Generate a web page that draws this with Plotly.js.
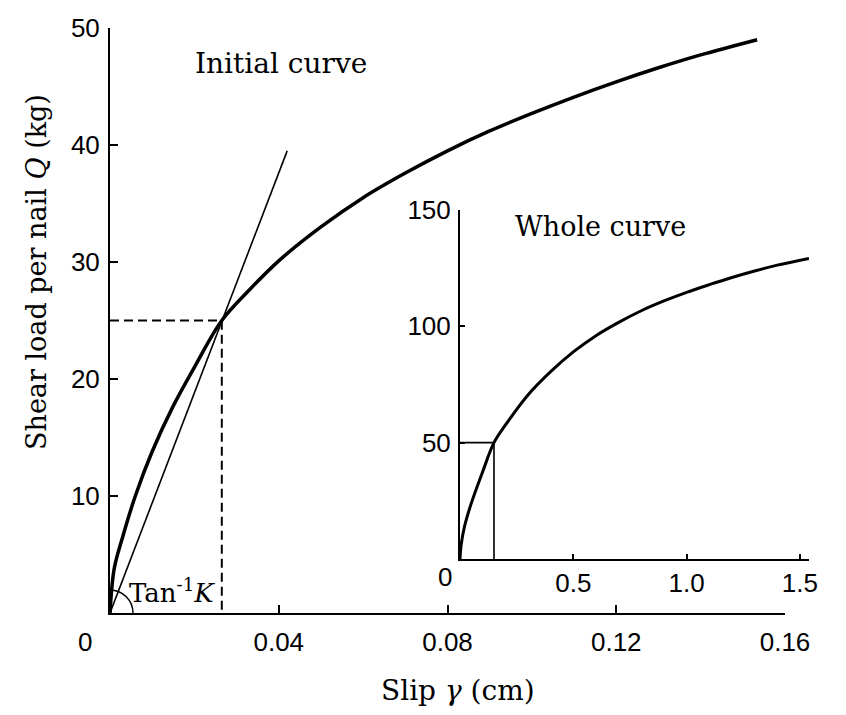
<!DOCTYPE html>
<html>
<head>
<meta charset="utf-8">
<script src="https://cdn.plot.ly/plotly-3.0.1.min.js"></script>
<style>html,body{margin:0;padding:0;background:#fff;}#chart{width:846px;height:715px;}</style>
</head>
<body>
<div id="chart"></div>
<script>
// Initial curve (main plot): slip (cm) vs shear load per nail (kg)
const initialSlip = [0, 0.001, 0.003, 0.006, 0.01, 0.015, 0.02, 0.0265, 0.033, 0.04, 0.05, 0.06, 0.07, 0.08, 0.09, 0.10, 0.11, 0.12, 0.13, 0.14, 0.1534];
const initialLoad = [0, 3.8, 6.5, 10.0, 13.8, 17.7, 21.0, 25.0, 27.6, 30.1, 33.0, 35.5, 37.6, 39.5, 41.2, 42.7, 44.1, 45.4, 46.6, 47.7, 49.0];
// Secant line (slip modulus K) through the reference point
const secantSlip = [0, 0.0265, 0.042];
const secantLoad = [0, 25, 39.5];
// Reference point (dashed guides)
const refSlip = [0, 0.0265, 0.0265];
const refLoad = [25, 25, 0];
// Whole curve (inset)
const wholeSlip = [0, 0.005, 0.02, 0.05, 0.1, 0.15, 0.2, 0.3, 0.4, 0.5, 0.6, 0.7, 0.8, 0.9, 1.0, 1.1, 1.2, 1.3, 1.4, 1.54];
const wholeLoad = [0, 6, 14, 24, 37.5, 50, 57.5, 70.5, 80.5, 89, 96, 101.7, 106.7, 110.9, 114.6, 117.9, 121.0, 123.8, 126.3, 129.2];
// Initial-curve window shown in the inset
const boxSlip = [0, 0.15, 0.15];
const boxLoad = [50, 50, 0];
// Tick labels
const mainXTicks = [0.04, 0.08, 0.12, 0.16];
const mainXText = ['0.04', '0.08', '0.12', '0.16'];
const mainYTicks = [10, 20, 30, 40, 50];
const insetXTicks = [0.5, 1.0, 1.5];
const insetXText = ['0.5', '1.0', '1.5'];
const insetYTicks = [50, 100, 150];

const serif = 'DejaVu Serif, Liberation Serif, serif';
const sans = 'Liberation Sans, Arial, sans-serif';

const traces = [
  {x: initialSlip, y: initialLoad, mode: 'lines', line: {color: '#000', width: 3.5, shape: 'spline', smoothing: 1}, xaxis: 'x', yaxis: 'y', hoverinfo: 'skip'},
  {x: secantSlip, y: secantLoad, mode: 'lines', line: {color: '#000', width: 1.6}, xaxis: 'x', yaxis: 'y', hoverinfo: 'skip'},
  {x: refSlip, y: refLoad, mode: 'lines', line: {color: '#000', width: 2, dash: '9px,5px'}, xaxis: 'x', yaxis: 'y', hoverinfo: 'skip'},
  {x: wholeSlip, y: wholeLoad, mode: 'lines', line: {color: '#000', width: 3, shape: 'spline', smoothing: 1}, xaxis: 'x2', yaxis: 'y2', hoverinfo: 'skip'},
  {x: boxSlip, y: boxLoad, mode: 'lines', line: {color: '#000', width: 1.6}, xaxis: 'x2', yaxis: 'y2', hoverinfo: 'skip'}
];

const axisCommon = {
  showline: true, linecolor: '#000', linewidth: 2, mirror: false,
  showgrid: false, zeroline: false,
  ticks: 'inside', ticklen: 8, tickwidth: 2, tickcolor: '#000',
  fixedrange: true
};

const tickFont = {family: sans, size: 26, color: '#000'};

const layout = {
  width: 846, height: 715,
  margin: {l: 0, r: 0, t: 0, b: 0},
  paper_bgcolor: '#fff', plot_bgcolor: 'rgba(0,0,0,0)',
  showlegend: false,
  font: {family: sans, color: '#000', size: 24},
  xaxis: Object.assign({}, axisCommon, {
    domain: [110/846, 785/846], range: [0, 0.16],
    tickvals: mainXTicks, ticktext: mainXText,
    tickfont: tickFont, ticklabelstandoff: 5,
    anchor: 'y'
  }),
  yaxis: Object.assign({}, axisCommon, {
    domain: [(715-613)/715, (715-28)/715], range: [0, 50],
    tickvals: mainYTicks,
    tickfont: tickFont, ticklabelstandoff: 3,
    anchor: 'x'
  }),
  xaxis2: Object.assign({}, axisCommon, {
    domain: [460/846, 809/846], range: [0, 1.54],
    tickvals: insetXTicks, ticktext: insetXText, ticklen: 5,
    tickfont: tickFont, ticklabelstandoff: 0,
    anchor: 'y2'
  }),
  yaxis2: Object.assign({}, axisCommon, {
    domain: [(715-559)/715, (715-210)/715], range: [0, 150],
    tickvals: insetYTicks, ticklen: 5,
    tickfont: tickFont, ticklabelstandoff: 2,
    anchor: 'x2'
  }),
  shapes: [
    {type: 'circle', xref: 'x', yref: 'y', xsizemode: 'pixel', ysizemode: 'pixel',
     xanchor: 0, yanchor: 0, x0: -23, x1: 23, y0: -23, y1: 23,
     line: {color: '#000', width: 1.5}, layer: 'above'}
  ],
  annotations: [
    {text: 'Shear load per nail <i>Q</i> (kg)', xref: 'paper', yref: 'paper', x: 36/846, y: (715-272)/715,
     textangle: -90, showarrow: false, font: {family: serif, size: 27, color: '#000'}, xanchor: 'center', yanchor: 'middle'},
    {text: 'Slip <i>γ</i> (cm)', xref: 'paper', yref: 'paper', x: 458/846, y: (715-690)/715,
     showarrow: false, font: {family: serif, size: 28, color: '#000'}, xanchor: 'center', yanchor: 'middle'},
    {text: '0', xref: 'paper', yref: 'paper', x: 85/846, y: (715-642)/715,
     showarrow: false, font: tickFont, xanchor: 'center', yanchor: 'middle'},
    {text: '0', xref: 'paper', yref: 'paper', x: 445/846, y: (715-577)/715,
     showarrow: false, font: tickFont, xanchor: 'center', yanchor: 'middle'},
    {text: 'Initial curve', xref: 'x', yref: 'y', x: 0.0405, y: 47.0,
     showarrow: false, font: {family: serif, size: 28, color: '#000'}, xanchor: 'center', yanchor: 'middle'},
    {text: 'Whole curve', xref: 'x2', yref: 'y2', x: 0.618, y: 142.7,
     showarrow: false, font: {family: serif, size: 27, color: '#000'}, xanchor: 'center', yanchor: 'middle'},
    {text: 'Tan<sup>-1</sup><i>K</i>', xref: 'x', yref: 'y', x: 0.0147, y: 1.9,
     showarrow: false, font: {family: serif, size: 26, color: '#000'}, xanchor: 'center', yanchor: 'middle'}
  ]
};

Plotly.newPlot('chart', traces, layout, {staticPlot: true, displayModeBar: false});
</script>
</body>
</html>
